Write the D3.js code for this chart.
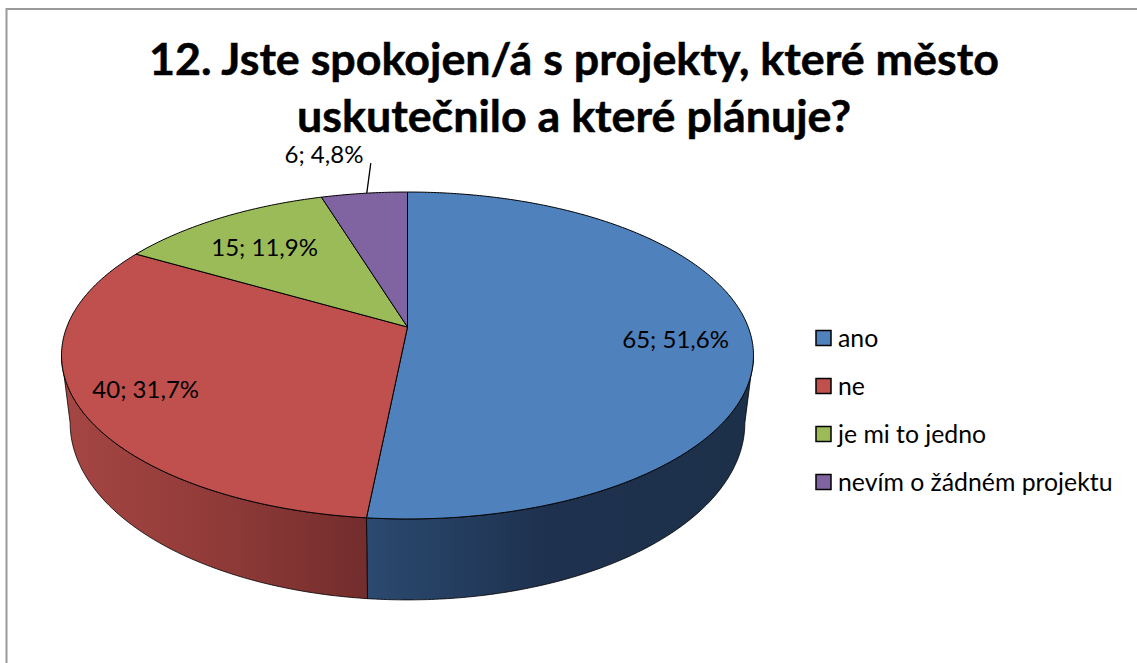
<!DOCTYPE html>
<html>
<head>
<meta charset="utf-8">
<script src="https://cdn.jsdelivr.net/npm/d3@7"></script>
<style>
  html, body { margin: 0; padding: 0; background: #fff; }
  svg { display: block; }
  text { font-family: Lato, "Open Sans", sans-serif; fill: #000; }
</style>
</head>
<body>
<div id="chart"></div>
<script>
var categories = ["ano", "ne", "je mi to jedno", "nevím o žádném projektu"];
var counts = [65, 40, 15, 6];
var sliceColors = ["#4f81bd", "#c0504d", "#9bbb59", "#8064a2"];
var titleLines = ["12. Jste spokojen/á s projekty, které město", "uskutečnilo a které plánuje?"];

var width = 1137, height = 663;
var total = d3.sum(counts);

var svg = d3.select("#chart").append("svg")
  .attr("width", width)
  .attr("height", height);

// chart frame, runs off the bottom and right of the screenshot
svg.append("rect")
  .attr("x", 6.5).attr("y", 9)
  .attr("width", width).attr("height", height)
  .attr("fill", "#fff")
  .attr("stroke", "#9a9a9a")
  .attr("stroke-width", 2);

svg.selectAll(".title")
  .data(titleLines)
  .enter().append("text")
  .attr("class", "title")
  .attr("x", 574)
  .attr("y", function(d, i) { return 75 + i * 57; })
  .attr("text-anchor", "middle")
  .attr("font-size", 44.8)
  .attr("font-weight", 700)
  .attr("stroke", "#000")
  .attr("stroke-width", 0.5)
  .text(function(d) { return d; });

// tilted disc: angle (clockwise from top) -> screen point, with perspective
var apexX = 407.5, apexY = 327;
var persp = 0.1743, scaleU = 340.7, scaleV = 158.5;
// underside of the disc has its own squash
var lowerDrop = 65, lowerU = 0.975, lowerV = 1.083;

function project(angle, r, lower) {
  var u = Math.sin(angle) * r;
  var v = -Math.cos(angle) * r;
  var w = 1 - persp * v;
  return [
    apexX + (lower ? lowerU : 1) * scaleU * u / w,
    apexY + (lower ? lowerDrop : 0) + (lower ? lowerV : 1) * scaleV * v / w
  ];
}

function arcPoints(a0, a1, lower) {
  var n = Math.max(2, Math.ceil(Math.abs(a1 - a0) / 0.01));
  return d3.range(n + 1).map(function(i) {
    return project(a0 + (a1 - a0) * i / n, 1, lower);
  });
}

var pie = d3.pie().sort(null)(counts);
var line = d3.line();

var defs = svg.append("defs");
function wallGradient(id, x1, x2, stops) {
  var g = defs.append("linearGradient")
    .attr("id", id)
    .attr("gradientUnits", "userSpaceOnUse")
    .attr("x1", x1).attr("x2", x2).attr("y1", 0).attr("y2", 0);
  stops.forEach(function(s) {
    g.append("stop").attr("offset", s[0]).attr("stop-color", s[1]);
  });
}
wallGradient("wallBlue", 367, 750, [[0, "#2b4a6f"], [0.45, "#1e3250"], [1, "#1c3049"]]);
wallGradient("wallRed", 62, 367, [[0, "#a54643"], [0.5, "#913b39"], [1, "#722d2c"]]);

// visible part of the side wall, split at the blue/red border
var widest = Math.acos(-persp);
var walls = [
  { a0: widest, a1: pie[0].endAngle, fill: "url(#wallBlue)" },
  { a0: pie[0].endAngle, a1: 2 * Math.PI - widest, fill: "url(#wallRed)" }
];

svg.selectAll(".wall")
  .data(walls)
  .enter().append("path")
  .attr("class", "wall")
  .attr("d", function(d) {
    return line(arcPoints(d.a0, d.a1, false).concat(arcPoints(d.a1, d.a0, true))) + "Z";
  })
  .attr("fill", function(d) { return d.fill; })
  .attr("stroke", "#000")
  .attr("stroke-width", 0.8)
  .attr("stroke-linejoin", "round");

svg.selectAll(".slice")
  .data(pie)
  .enter().append("path")
  .attr("class", "slice")
  .attr("d", function(d) {
    return line([[apexX, apexY]].concat(arcPoints(d.startAngle, d.endAngle, false))) + "Z";
  })
  .attr("fill", function(d, i) { return sliceColors[i]; })
  .attr("stroke", "#000")
  .attr("stroke-width", 1)
  .attr("stroke-linejoin", "round");

function labelText(v) {
  return v + "; " + (v / total * 100).toFixed(1).replace(".", ",") + "%";
}

// label spot for each slice, as disc radius fraction and shift off the mid angle
var labelRadius = [0.78, 0.808, 0.7167, 1.372];
var labelAngleShift = [0.054, 0.0, -0.023, -0.0726];

function labelPos(d, i) {
  return project((d.startAngle + d.endAngle) / 2 + labelAngleShift[i], labelRadius[i], false);
}

svg.selectAll(".value")
  .data(pie)
  .enter().append("text")
  .attr("class", "value")
  .attr("x", function(d, i) { return labelPos(d, i)[0]; })
  .attr("y", function(d, i) { return labelPos(d, i)[1]; })
  .attr("dy", "0.35em")
  .attr("text-anchor", "middle")
  .attr("font-size", 24)
  .text(function(d) { return labelText(d.data); });

// leader for the small slice
var small = pie[3];
var leadStart = project((small.startAngle + small.endAngle) / 2 + 0.009, 1, false);
svg.append("line")
  .attr("x1", leadStart[0]).attr("y1", leadStart[1])
  .attr("x2", leadStart[0] + 4).attr("y2", leadStart[1] - 30)
  .attr("stroke", "#000")
  .attr("stroke-width", 1.3);

var legendY = d3.scalePoint().domain(categories).range([338, 482]);

var legend = svg.selectAll(".legend")
  .data(categories)
  .enter().append("g")
  .attr("class", "legend")
  .attr("transform", function(d) { return "translate(0," + legendY(d) + ")"; });

legend.append("rect")
  .attr("x", 816).attr("y", -7.5)
  .attr("width", 15).attr("height", 15)
  .attr("fill", function(d, i) { return sliceColors[i]; })
  .attr("stroke", "#000")
  .attr("stroke-width", 1.5);

legend.append("text")
  .attr("x", 838)
  .attr("dy", "0.35em")
  .attr("font-size", 24.8)
  .text(function(d) { return d; });
</script>
</body>
</html>
